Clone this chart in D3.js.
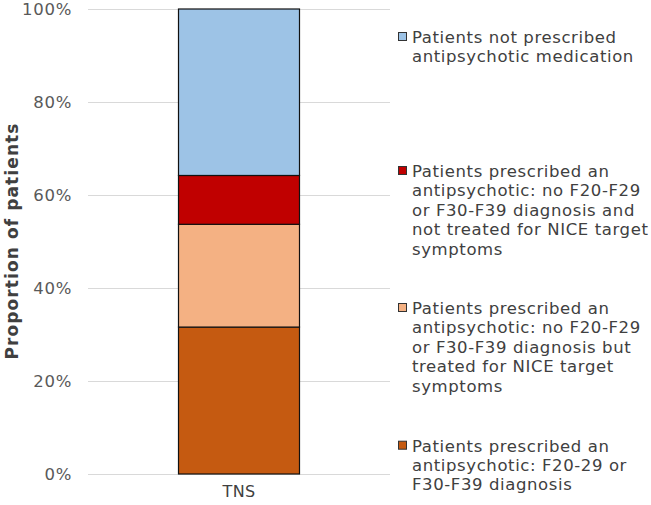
<!DOCTYPE html>
<html><head><meta charset="utf-8">
<script src="https://cdn.jsdelivr.net/npm/d3@7"></script>
<style>body{margin:0;background:#fff}svg{display:block}text{font-family:"DejaVu Sans",Verdana,sans-serif}</style>
</head><body>
<script>
const categories = ["TNS"];
const seriesNames = [
  "Patients prescribed an antipsychotic: F20-29 or F30-F39 diagnosis",
  "Patients prescribed an antipsychotic: no F20-F29 or F30-F39 diagnosis but treated for NICE target symptoms",
  "Patients prescribed an antipsychotic: no F20-F29 or F30-F39 diagnosis and not treated for NICE target symptoms",
  "Patients not prescribed antipsychotic medication"
];
const seriesValues = [31.6, 22.1, 10.5, 35.8];
const seriesColors = ["#C55A11", "#F4B183", "#C00000", "#9DC3E6"];
const legendLines = [
  ["Patients not prescribed", "antipsychotic medication"],
  ["Patients prescribed an", "antipsychotic: no F20-F29", "or F30-F39 diagnosis and", "not treated for NICE target", "symptoms"],
  ["Patients prescribed an", "antipsychotic: no F20-F29", "or F30-F39 diagnosis but", "treated for NICE target", "symptoms"],
  ["Patients prescribed an", "antipsychotic: F20-29 or", "F30-F39 diagnosis"]
];
const legendOrder = [3, 2, 1, 0];
const yTicks = [0, 20, 40, 60, 80, 100];

const W = 651, H = 505;
const svg = d3.select("body").append("svg").attr("width", W).attr("height", H);

const y = d3.scaleLinear().domain([0, 100]).range([474, 9]);
const x = d3.scaleBand().domain(categories).range([88, 390]).paddingInner(0).paddingOuter(0.3);

// gridlines
svg.append("g").selectAll("line").data(yTicks).join("line")
  .attr("x1", 88).attr("x2", 390)
  .attr("y1", d => Math.round(y(d)) + 0.5).attr("y2", d => Math.round(y(d)) + 0.5)
  .attr("stroke", "#d9d9d9").attr("stroke-width", 1);

// y axis labels
const yAxis = d3.axisLeft(y).tickValues(yTicks).tickFormat(d => d + "%").tickSize(0).tickPadding(0);
const yg = svg.append("g").attr("transform", "translate(71.5,0)").call(yAxis);
yg.select(".domain").remove();
yg.selectAll("text").attr("font-size", 16.5).attr("fill", "#595959")
  .attr("letter-spacing", 0.8).attr("dx", 0.8)
  .attr("font-family", '"DejaVu Sans",Verdana,sans-serif');

// x axis labels
const xAxis = d3.axisBottom(x).tickSize(0).tickPadding(0);
const xg = svg.append("g").attr("transform", "translate(0,486)").call(xAxis);
xg.select(".domain").remove();
xg.selectAll("text").attr("font-size", 16).attr("fill", "#404040")
  .attr("letter-spacing", 0.3)
  .attr("font-family", '"DejaVu Sans",Verdana,sans-serif');

// stacked bars
const stackData = [Object.fromEntries([["cat", categories[0]], ...seriesValues.map((v, i) => ["s" + i, v])])];
const stack = d3.stack().keys(seriesValues.map((v, i) => "s" + i));
const layers = stack(stackData);
const bw = 121;
svg.append("g").selectAll("g").data(layers).join("g")
  .attr("fill", (d, i) => seriesColors[i])
  .selectAll("rect").data(d => d).join("rect")
  .attr("x", d => x(d.data.cat) + x.bandwidth() / 2 - bw / 2)
  .attr("width", bw)
  .attr("y", d => y(d[1]))
  .attr("height", d => y(d[0]) - y(d[1]))
  .attr("stroke", "#111").attr("stroke-width", 1.2);

// y title
svg.append("text").attr("transform", "translate(18,241) rotate(-90)")
  .attr("text-anchor", "middle").attr("font-size", 17).attr("font-weight", "bold")
  .attr("letter-spacing", 1.1)
  .attr("fill", "#404040").text("Proportion of patients");

// legend
const legendY = [43, 177, 314, 451.7];
const lg = svg.append("g");
legendOrder.forEach((si, k) => {
  const g = lg.append("g").attr("transform", `translate(0,${legendY[k]})`);
  g.append("rect").attr("x", 398.5).attr("y", -10.5).attr("width", 8).attr("height", 8)
    .attr("fill", seriesColors[si]).attr("stroke", "#333").attr("stroke-width", 1);
  const t = g.append("text").attr("x", 412).attr("y", 0).attr("font-size", 16.5)
    .attr("letter-spacing", 0.6).attr("fill", "#404040");
  legendLines[k].forEach((ln, j) => {
    t.append("tspan").attr("x", 412).attr("y", j * 19.4).text(ln);
  });
});
</script>
</body></html>
